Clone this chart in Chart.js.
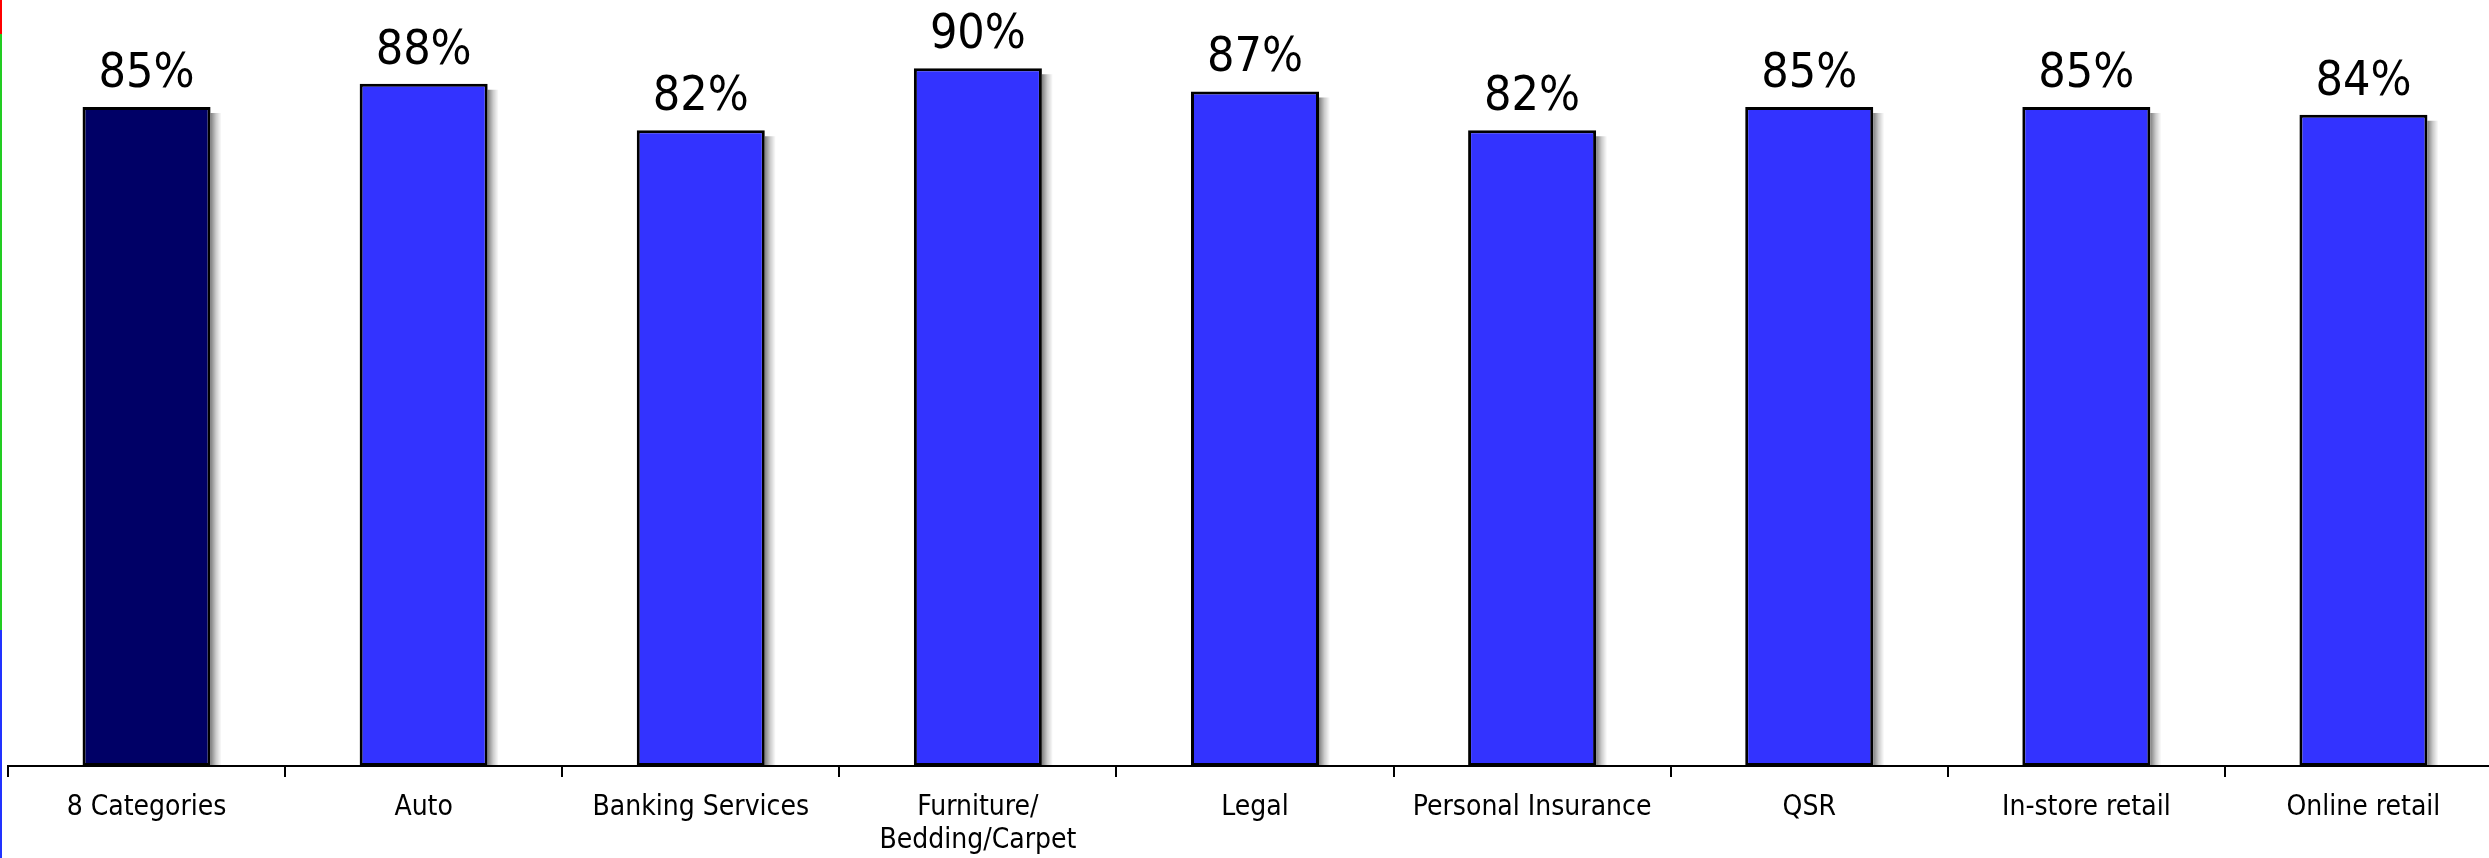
<!DOCTYPE html>
<html>
<head>
<meta charset="utf-8">
<script src="https://cdn.jsdelivr.net/npm/chart.js"></script>
<style>
    html, body { margin: 0; padding: 0; background: #fff; overflow: hidden; }
    #wrap { position: relative; width: 2489px; height: 858px; overflow: hidden; }
    #strip {
        position: absolute; left: 0; top: 0; width: 2px; height: 858px;
        background: linear-gradient(#ff0000 0 34px, #22cc22 34px 630px, #2233ff 630px 858px);
    }
    canvas { position: absolute; left: 0; top: 0; }
</style>
</head>
<body>
<div id="wrap">
    <canvas id="chart" width="2502" height="858"></canvas>
    <div id="strip"></div>
</div>
<script>
// 数据
const categories = ['8 Categories', 'Auto', 'Banking Services', ['Furniture/', 'Bedding/Carpet'],
    'Legal', 'Personal Insurance', 'QSR', 'In-store retail', 'Online retail'];
const values = [85, 88, 82, 90, 87, 82, 85, 85, 84];

// 第一根柱子高亮
const barColors = values.map((v, i) => i === 0 ? '#000066' : '#3333ff');

// 柱子右侧阴影（按柱子元素的位置画渐变）
const shadowPlugin = {
    id: 'barShadow',
    beforeDatasetsDraw(chart) {
        const ctx = chart.ctx;
        const size = 11;
        ctx.save();
        chart.getDatasetMeta(0).data.forEach(bar => {
            const right = bar.x + bar.width / 2;
            const top = bar.y + 6;
            const grad = ctx.createLinearGradient(right, 0, right + size, 0);
            grad.addColorStop(0, 'rgba(0,0,0,0.5)');
            grad.addColorStop(0.5, 'rgba(0,0,0,0.2)');
            grad.addColorStop(1, 'rgba(0,0,0,0)');
            ctx.fillStyle = grad;
            ctx.fillRect(right, top, size, bar.base - top);
        });
        ctx.restore();
    }
};

// 柱顶百分比标签
const valueLabelPlugin = {
    id: 'valueLabels',
    afterDatasetsDraw(chart) {
        const ctx = chart.ctx;
        ctx.save();
        ctx.font = '48px "DejaVu Sans Condensed", "DejaVu Sans", sans-serif';
        ctx.fillStyle = '#000';
        ctx.textAlign = 'center';
        ctx.textBaseline = 'alphabetic';
        chart.getDatasetMeta(0).data.forEach((bar, i) => {
            ctx.fillText(values[i] + '%', bar.x, bar.y - 20);
        });
        ctx.restore();
    }
};

new Chart(document.getElementById('chart'), {
    type: 'bar',
    data: {
        labels: categories,
        datasets: [{
            data: values,
            backgroundColor: barColors,
            borderColor: '#000',
            borderWidth: 3,
            borderSkipped: false,
            categoryPercentage: 1,
            barPercentage: 0.462
        }]
    },
    options: {
        responsive: false,
        animation: false,
        layout: { padding: { left: 8, right: 0, top: 0, bottom: 0 } },
        plugins: {
            legend: { display: false },
            tooltip: { enabled: false }
        },
        scales: {
            x: {
                offset: true,
                afterFit(scale) { scale.height = 92; },
                border: { display: true, color: '#000', width: 2 },
                grid: {
                    display: true,
                    offset: true,
                    drawOnChartArea: false,
                    drawTicks: true,
                    tickLength: 11,
                    color: '#000',
                    lineWidth: 2
                },
                ticks: {
                    color: '#000',
                    padding: 15,
                    maxRotation: 0,
                    autoSkip: false,
                    font: { family: '"DejaVu Sans Condensed", "DejaVu Sans", sans-serif', size: 28, lineHeight: 1.15 }
                }
            },
            y: {
                display: false,
                min: 0,
                max: 98.8
            }
        }
    },
    plugins: [shadowPlugin, valueLabelPlugin]
});
</script>
</body>
</html>
